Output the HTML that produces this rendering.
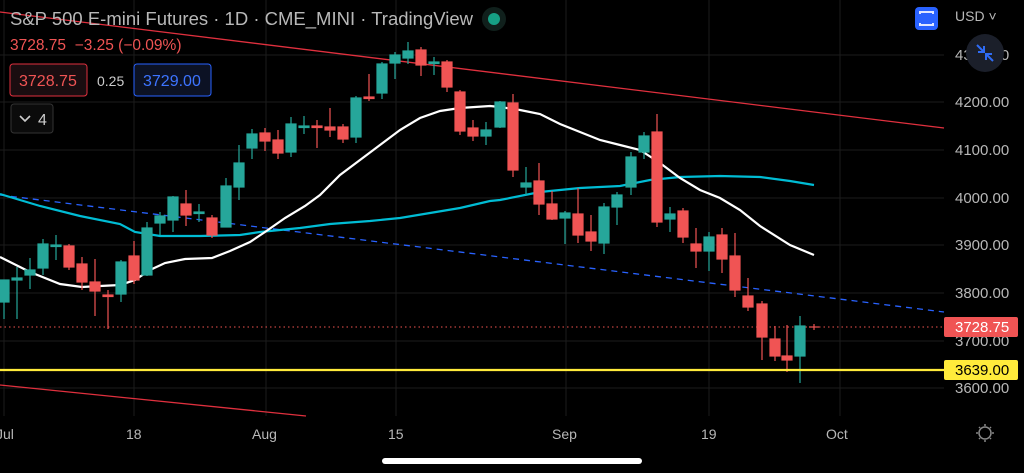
<!DOCTYPE html>
<html><head><meta charset="utf-8"><style>
html,body{margin:0;padding:0;background:#000;width:1024px;height:473px;overflow:hidden;font-family:"Liberation Sans",sans-serif}
svg{position:absolute;left:0;top:0}
.t{font-family:"Liberation Sans",sans-serif}
</style></head><body>
<svg width="1024" height="473" viewBox="0 0 1024 473">
<g stroke="#1c1c1c" stroke-width="1">
<line x1="0" y1="55" x2="944" y2="55"/><line x1="0" y1="102" x2="944" y2="102"/><line x1="0" y1="150" x2="944" y2="150"/><line x1="0" y1="198" x2="944" y2="198"/><line x1="0" y1="245" x2="944" y2="245"/><line x1="0" y1="293" x2="944" y2="293"/><line x1="0" y1="341" x2="944" y2="341"/><line x1="0" y1="388" x2="944" y2="388"/>
<line x1="4" y1="0" x2="4" y2="416"/><line x1="134" y1="0" x2="134" y2="416"/><line x1="266" y1="0" x2="266" y2="416"/><line x1="396" y1="0" x2="396" y2="416"/><line x1="566" y1="0" x2="566" y2="416"/><line x1="709" y1="0" x2="709" y2="416"/><line x1="840" y1="0" x2="840" y2="416"/>
</g>
<line x1="0" y1="12" x2="944" y2="128" stroke="#e0303e" stroke-width="1.3"/>
<line x1="0" y1="385" x2="306" y2="416" stroke="#e0303e" stroke-width="1.3"/>
<line x1="0" y1="195" x2="944" y2="312" stroke="#2962ff" stroke-width="1.3" stroke-dasharray="6,5"/>
<line x1="0" y1="327" x2="944" y2="327" stroke="#ef5350" stroke-width="1" stroke-dasharray="1.5,3"/>
<polyline fill="none" stroke="#00bcd4" stroke-width="2.2" points="0,194 40,206 80,216 120,224 135,232 160,236 200,236 240,235 260,232 300,228 330,224 370,221 400,218 430,213 460,208 490,201 500,200 540,192 580,188 620,186 650,180 680,177 720,176 760,177 790,181 814,185"/>
<polyline fill="none" stroke="#fff" stroke-width="2.2" points="0,257 30,272 60,284 82,287 100,286 120,285 135,280 150,270 165,263 185,259 212,258 230,251 250,242 265,232 285,218 305,206 320,195 340,175 360,160 380,145 400,130 420,118 440,111 460,108 490,106 500,107 520,110 540,114 560,124 580,132 600,140 620,145 640,150 660,163 680,178 700,190 720,198 740,210 760,226 790,245 814,255"/>
<g stroke-width="1.2">
<g stroke="#26a69a" fill="#26a69a">
<line x1="4" y1="280" x2="4" y2="319"/><rect x="-1" y="280" width="10" height="22"/>
<line x1="17" y1="267" x2="17" y2="319"/><rect x="12" y="278" width="10" height="2"/>
<line x1="30" y1="258" x2="30" y2="289"/><rect x="25" y="270" width="10" height="5"/>
<line x1="43" y1="239" x2="43" y2="275"/><rect x="38" y="244" width="10" height="24"/>
<line x1="56" y1="235" x2="56" y2="260"/><rect x="51" y="245" width="10" height="1.5"/>
<line x1="121" y1="260" x2="121" y2="302"/><rect x="116" y="262" width="10" height="32"/>
<line x1="147" y1="222" x2="147" y2="276"/><rect x="142" y="228" width="10" height="47"/>
<line x1="160" y1="212" x2="160" y2="235"/><rect x="155" y="216" width="10" height="7"/>
<line x1="173" y1="196" x2="173" y2="232"/><rect x="168" y="197" width="10" height="23"/>
<line x1="199" y1="204" x2="199" y2="222"/><rect x="194" y="212" width="10" height="1.5"/>
<line x1="226" y1="178" x2="226" y2="227"/><rect x="221" y="186" width="10" height="41"/>
<line x1="239" y1="145" x2="239" y2="200"/><rect x="234" y="163" width="10" height="24"/>
<line x1="252" y1="129" x2="252" y2="159"/><rect x="247" y="134" width="10" height="14"/>
<line x1="291" y1="117" x2="291" y2="157"/><rect x="286" y="124" width="10" height="28"/>
<line x1="304" y1="116" x2="304" y2="134"/><rect x="299" y="126" width="10" height="1.5"/>
<line x1="356" y1="96" x2="356" y2="143"/><rect x="351" y="98" width="10" height="39"/>
<line x1="382" y1="62" x2="382" y2="99"/><rect x="377" y="64" width="10" height="29"/>
<line x1="395" y1="52" x2="395" y2="79"/><rect x="390" y="55" width="10" height="8"/>
<line x1="408" y1="42" x2="408" y2="64"/><rect x="403" y="51" width="10" height="7"/>
<line x1="434" y1="57" x2="434" y2="75"/><rect x="429" y="62" width="10" height="1.5"/>
<line x1="486" y1="122" x2="486" y2="145"/><rect x="481" y="130" width="10" height="6"/>
<line x1="500" y1="101" x2="500" y2="128"/><rect x="495" y="102" width="10" height="25"/>
<line x1="526" y1="167" x2="526" y2="195"/><rect x="521" y="183" width="10" height="4"/>
<line x1="565" y1="211" x2="565" y2="244"/><rect x="560" y="213" width="10" height="5"/>
<line x1="604" y1="203" x2="604" y2="254"/><rect x="599" y="207" width="10" height="36"/>
<line x1="617" y1="192" x2="617" y2="225"/><rect x="612" y="195" width="10" height="12"/>
<line x1="631" y1="152" x2="631" y2="195"/><rect x="626" y="157" width="10" height="30"/>
<line x1="644" y1="132" x2="644" y2="159"/><rect x="639" y="136" width="10" height="16"/>
<line x1="670" y1="207" x2="670" y2="232"/><rect x="665" y="214" width="10" height="5"/>
<line x1="709" y1="232" x2="709" y2="271"/><rect x="704" y="237" width="10" height="14"/>
<line x1="800" y1="316" x2="800" y2="383"/><rect x="795" y="326" width="10" height="30"/>
</g>
<g stroke="#f05454" fill="#f05454">
<line x1="69" y1="244" x2="69" y2="270"/><rect x="64" y="246" width="10" height="21"/>
<line x1="82" y1="257" x2="82" y2="290"/><rect x="77" y="264" width="10" height="18"/>
<line x1="95" y1="259" x2="95" y2="316"/><rect x="90" y="282" width="10" height="9"/>
<line x1="108" y1="290" x2="108" y2="329"/><rect x="103" y="295" width="10" height="1.5"/>
<line x1="134" y1="241" x2="134" y2="284"/><rect x="129" y="256" width="10" height="24"/>
<line x1="186" y1="190" x2="186" y2="226"/><rect x="181" y="204" width="10" height="11"/>
<line x1="212" y1="215" x2="212" y2="238"/><rect x="207" y="218" width="10" height="17"/>
<line x1="265" y1="128" x2="265" y2="151"/><rect x="260" y="133" width="10" height="8"/>
<line x1="278" y1="130" x2="278" y2="159"/><rect x="273" y="140" width="10" height="13"/>
<line x1="317" y1="120" x2="317" y2="148"/><rect x="312" y="126" width="10" height="1.5"/>
<line x1="330" y1="108" x2="330" y2="137"/><rect x="325" y="127" width="10" height="3"/>
<line x1="343" y1="124" x2="343" y2="143"/><rect x="338" y="127" width="10" height="12"/>
<line x1="369" y1="74" x2="369" y2="101"/><rect x="364" y="97" width="10" height="1.5"/>
<line x1="421" y1="47" x2="421" y2="76"/><rect x="416" y="50" width="10" height="15"/>
<line x1="447" y1="60" x2="447" y2="92"/><rect x="442" y="62" width="10" height="25"/>
<line x1="460" y1="90" x2="460" y2="135"/><rect x="455" y="92" width="10" height="39"/>
<line x1="473" y1="120" x2="473" y2="141"/><rect x="468" y="128" width="10" height="8"/>
<line x1="513" y1="94" x2="513" y2="177"/><rect x="508" y="103" width="10" height="67"/>
<line x1="539" y1="163" x2="539" y2="215"/><rect x="534" y="181" width="10" height="23"/>
<line x1="552" y1="191" x2="552" y2="220"/><rect x="547" y="204" width="10" height="15"/>
<line x1="578" y1="188" x2="578" y2="243"/><rect x="573" y="214" width="10" height="21"/>
<line x1="591" y1="215" x2="591" y2="251"/><rect x="586" y="232" width="10" height="9"/>
<line x1="657" y1="114" x2="657" y2="227"/><rect x="652" y="132" width="10" height="90"/>
<line x1="683" y1="208" x2="683" y2="243"/><rect x="678" y="211" width="10" height="26"/>
<line x1="696" y1="228" x2="696" y2="268"/><rect x="691" y="244" width="10" height="7"/>
<line x1="722" y1="228" x2="722" y2="273"/><rect x="717" y="235" width="10" height="24"/>
<line x1="735" y1="233" x2="735" y2="297"/><rect x="730" y="256" width="10" height="34"/>
<line x1="748" y1="278" x2="748" y2="311"/><rect x="743" y="296" width="10" height="11"/>
<line x1="762" y1="301" x2="762" y2="360"/><rect x="757" y="304" width="10" height="33"/>
<line x1="775" y1="326" x2="775" y2="361"/><rect x="770" y="339" width="10" height="17"/>
<line x1="787" y1="325" x2="787" y2="372"/><rect x="782" y="356" width="10" height="4"/>
<line x1="814" y1="324" x2="814" y2="330"/><line x1="809" y1="327" x2="819" y2="327"/>
</g></g>
<line x1="0" y1="370" x2="944" y2="370" stroke="#ffeb3b" stroke-width="2.2"/>
<g class="t" fill="#b8b8b8" font-size="15">
<text x="955" y="107">4200.00</text><text x="955" y="155">4100.00</text><text x="955" y="203">4000.00</text><text x="955" y="250">3900.00</text><text x="955" y="298">3800.00</text><text x="955" y="346">3700.00</text><text x="955" y="393">3600.00</text><text x="955" y="60">4300.00</text>
<text x="955" y="21" font-size="14">USD ˅</text>
</g>
<rect x="944" y="317" width="74" height="20" rx="2" fill="#f05454"/>
<text x="955" y="332" class="t" font-size="15" fill="#fff">3728.75</text>
<rect x="944" y="360" width="74" height="20" rx="2" fill="#ffeb3b"/>
<text x="955" y="375" class="t" font-size="15" fill="#000">3639.00</text>
<circle cx="985" cy="53" r="19" fill="#1b1f2a"/>
<g stroke="#2f6cf5" stroke-width="2" fill="none"><path d="M977 45 L984 52 M984 46 V52 H978 M993 61 L986 54 M986 60 V54 H992"/></g>
<rect x="915" y="7" width="23" height="23" rx="4" fill="#2962ff"/>
<path d="M920 14 V12 H933 V14 M920 23 V25 H933 V23" stroke="#dfe6ff" stroke-width="2" fill="none"/>
<g class="t" fill="#b8b8b8" font-size="14">
<text x="-4" y="439">Jul</text><text x="126" y="439">18</text><text x="252" y="439">Aug</text><text x="388" y="439">15</text><text x="552" y="439">Sep</text><text x="701" y="439">19</text><text x="826" y="439">Oct</text>
</g>
<circle cx="985" cy="433" r="6" fill="none" stroke="#888" stroke-width="1.5"/>
<g stroke="#888" stroke-width="1.5"><line x1="985" y1="424" x2="985" y2="426"/><line x1="985" y1="440" x2="985" y2="442"/><line x1="976" y1="433" x2="978" y2="433"/><line x1="992" y1="433" x2="994" y2="433"/><line x1="979" y1="427" x2="980" y2="428"/><line x1="990" y1="438" x2="991" y2="439"/><line x1="991" y1="427" x2="990" y2="428"/><line x1="979" y1="439" x2="980" y2="438"/></g>
<rect x="382" y="458" width="260" height="6" rx="3" fill="#fff"/>
<g class="t">
<text x="10" y="25" font-size="18.5" fill="#b8b8b8">S&amp;P 500 E-mini Futures · 1D · CME_MINI · TradingView</text>
<circle cx="494" cy="19" r="12" fill="#10201c"/><circle cx="494" cy="19" r="6" fill="#16a085"/>
<text x="10" y="50" font-size="15.5" fill="#f05454" xml:space="preserve">3728.75  −3.25 (−0.09%)</text>
<rect x="10" y="64" width="77" height="32" rx="3" fill="#1a0d10" stroke="#e0303e" stroke-width="1"/>
<text x="19" y="86" font-size="16" fill="#f05454">3728.75</text>
<text x="97" y="86" font-size="14" fill="#ccc">0.25</text>
<rect x="134" y="64" width="77" height="32" rx="3" fill="#0c1224" stroke="#2962ff" stroke-width="1"/>
<text x="143" y="86" font-size="16" fill="#3d74ff">3729.00</text>
<rect x="11" y="104" width="42" height="29" rx="3" fill="#0b0b0b" stroke="#333" stroke-width="1"/>
<path d="M20 116 L25 121 L30 116" stroke="#ccc" stroke-width="1.6" fill="none"/>
<text x="38" y="125" font-size="16" fill="#ccc">4</text>
</g>
</svg>
</body></html>
